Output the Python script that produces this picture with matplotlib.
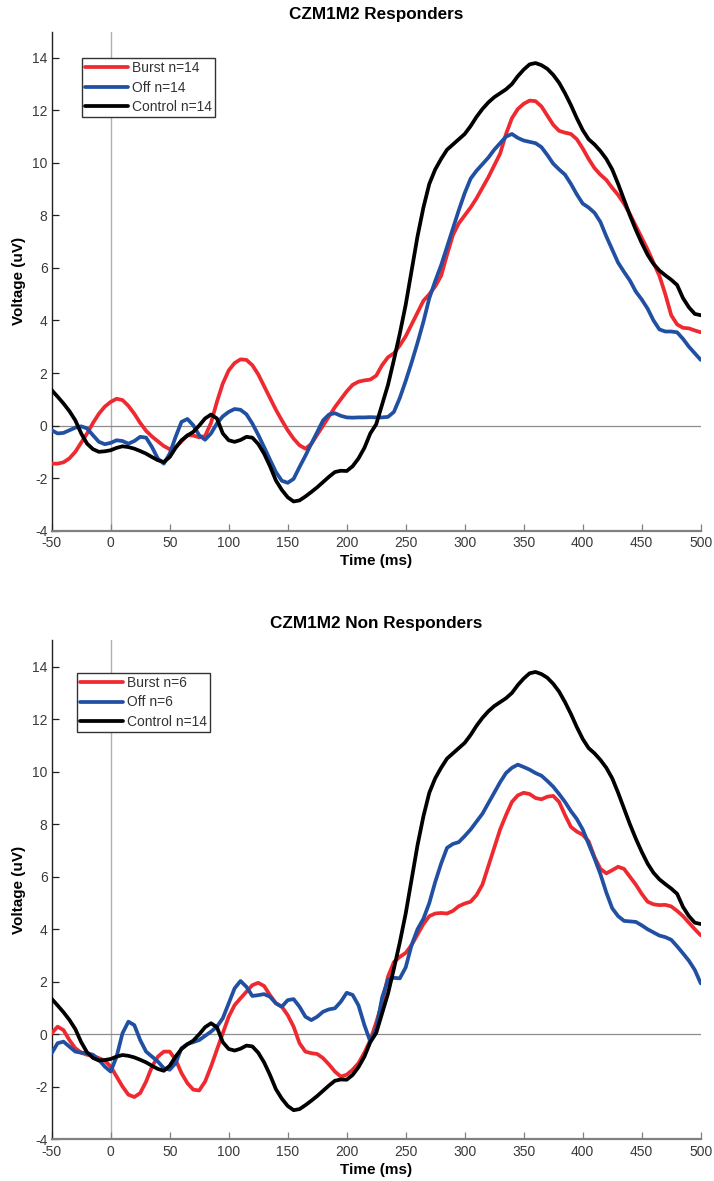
import matplotlib.pyplot as plt
import numpy as np

plt.rcParams['font.family'] = ['Liberation Sans', 'DejaVu Sans']
plt.rcParams['axes.unicode_minus'] = False

# time axis (ms), 5 ms steps
time_ms = np.arange(-50, 501, 5)

control_n14 = [
    1.35, 1.1, 0.84, 0.55, 0.2, -0.3, -0.69, -0.9, -1.0, -0.98,
    -0.94, -0.85, -0.79, -0.82, -0.88, -0.97, -1.07, -1.2, -1.32, -1.39,
    -1.2, -0.85, -0.56, -0.38, -0.24, 0.0, 0.27, 0.42, 0.27, -0.3,
    -0.56, -0.62, -0.55, -0.43, -0.46, -0.7, -1.07, -1.55, -2.09, -2.45,
    -2.73, -2.89, -2.85, -2.7, -2.53, -2.35, -2.15, -1.95, -1.77, -1.72,
    -1.73, -1.55, -1.25, -0.85, -0.3, 0.05, 0.8, 1.55, 2.5, 3.5,
    4.6, 5.9, 7.2, 8.3, 9.2, 9.75, 10.15, 10.5, 10.7, 10.9,
    11.1, 11.4, 11.75, 12.05, 12.3, 12.5, 12.65, 12.8, 13.0, 13.3,
    13.55, 13.75, 13.8, 13.72, 13.58, 13.35, 13.05, 12.65, 12.2, 11.7,
    11.25, 10.9, 10.7, 10.45, 10.15, 9.75, 9.2, 8.6, 8.0, 7.45,
    6.95, 6.5, 6.15, 5.9, 5.72, 5.55, 5.35, 4.85, 4.5, 4.25,
    4.2,
]

burst_n14 = [
    -1.45, -1.45, -1.4, -1.25, -1.0, -0.65, -0.3, 0.1, 0.45, 0.72,
    0.9, 1.02, 0.97, 0.75, 0.45, 0.1, -0.2, -0.42, -0.6, -0.78,
    -0.9, -0.82, -0.6, -0.37, -0.38, -0.45, -0.4, 0.1, 0.9, 1.6,
    2.1, 2.38, 2.52, 2.5, 2.3, 1.95, 1.5, 1.05, 0.6, 0.2,
    -0.18, -0.5, -0.75, -0.88, -0.7, -0.35, 0.0, 0.35, 0.7, 1.0,
    1.3, 1.55, 1.67, 1.72, 1.75, 1.9, 2.3, 2.6, 2.75, 3.05,
    3.4, 3.85, 4.3, 4.75, 5.0, 5.3, 5.7, 6.5, 7.25, 7.7,
    8.0, 8.3, 8.65, 9.05, 9.45, 9.9, 10.35, 11.1, 11.7, 12.05,
    12.25, 12.37, 12.35, 12.15, 11.8, 11.45, 11.22, 11.15, 11.1, 10.9,
    10.55, 10.15, 9.8, 9.55, 9.35, 9.05, 8.78, 8.45, 8.05, 7.6,
    7.15, 6.7, 6.2, 5.7, 5.0, 4.2, 3.85, 3.72, 3.7, 3.62,
    3.55,
]

off_n14 = [
    -0.18, -0.3, -0.28, -0.18, -0.08, -0.03, -0.11, -0.37, -0.62, -0.71,
    -0.66, -0.56, -0.59, -0.69, -0.59, -0.43, -0.46, -0.82, -1.26, -1.45,
    -1.07, -0.43, 0.14, 0.25, 0.01, -0.37, -0.54, -0.3, 0.08, 0.35,
    0.52, 0.63, 0.6, 0.43, 0.08, -0.35, -0.82, -1.3, -1.77, -2.1,
    -2.18, -2.03, -1.58, -1.15, -0.69, -0.25, 0.2, 0.42, 0.47, 0.37,
    0.31, 0.3, 0.31, 0.31, 0.32, 0.31, 0.31, 0.33, 0.52, 1.05,
    1.7, 2.4, 3.15, 3.95, 4.85, 5.5, 6.1, 6.8, 7.5, 8.2,
    8.85, 9.4, 9.7, 9.95, 10.2, 10.5, 10.75, 11.0, 11.1, 10.95,
    10.85, 10.8, 10.75, 10.6, 10.3, 9.97, 9.75, 9.55, 9.2, 8.8,
    8.45, 8.3, 8.1, 7.75, 7.2, 6.7, 6.2, 5.85, 5.52, 5.1,
    4.8, 4.45, 4.0, 3.66, 3.58, 3.58, 3.55, 3.3, 3.0, 2.75,
    2.5,
]

burst_n6 = [
    0.04, 0.29, 0.16, -0.22, -0.53, -0.7, -0.78, -0.82, -0.91, -1.0,
    -1.23, -1.61, -1.99, -2.3, -2.39, -2.24, -1.8, -1.23, -0.85, -0.66,
    -0.66, -0.97, -1.48, -1.86, -2.11, -2.14, -1.8, -1.23, -0.59, 0.04,
    0.67, 1.11, 1.37, 1.62, 1.87, 1.96, 1.84, 1.49, 1.18, 1.05,
    0.73, 0.29, -0.34, -0.66, -0.72, -0.75, -0.91, -1.15, -1.42, -1.61,
    -1.54, -1.35, -1.1, -0.7, -0.22, 0.45, 1.2, 2.2, 2.75, 2.95,
    3.1, 3.4, 3.8, 4.2, 4.5, 4.6, 4.62, 4.6, 4.7, 4.88,
    4.98, 5.05, 5.3, 5.7, 6.4, 7.1, 7.8, 8.35, 8.85, 9.1,
    9.2, 9.15, 9.0, 8.95, 9.05, 9.08, 8.85, 8.35, 7.9, 7.72,
    7.6, 7.35, 6.75, 6.3, 6.13, 6.25, 6.38, 6.3, 6.0, 5.7,
    5.35, 5.05, 4.95, 4.92, 4.93, 4.87, 4.7, 4.5, 4.25, 4.0,
    3.77,
]

off_n6 = [
    -0.72, -0.34, -0.28, -0.47, -0.66, -0.7, -0.72, -0.78, -0.97, -1.23,
    -1.42, -0.85, 0.04, 0.48, 0.35, -0.22, -0.66, -0.85, -1.04, -1.29,
    -1.35, -1.1, -0.53, -0.37, -0.3, -0.22, -0.06, 0.1, 0.29, 0.61,
    1.18, 1.75, 2.03, 1.81, 1.46, 1.49, 1.53, 1.43, 1.18, 1.05,
    1.3, 1.34, 1.05, 0.67, 0.54, 0.67, 0.86, 0.95, 0.99, 1.24,
    1.58, 1.5, 1.1, 0.35, -0.28, 0.2, 1.4, 2.08, 2.15, 2.13,
    2.55, 3.4, 4.0, 4.4, 5.0, 5.8, 6.5, 7.1, 7.25, 7.32,
    7.55, 7.8, 8.1, 8.4, 8.8, 9.2, 9.6, 9.95, 10.15, 10.27,
    10.18, 10.08, 9.95, 9.85, 9.65, 9.43, 9.15, 8.85, 8.5, 8.2,
    7.8, 7.25, 6.7, 6.1, 5.4, 4.8, 4.5, 4.32, 4.3, 4.28,
    4.15, 4.0, 3.88, 3.76, 3.7, 3.6, 3.35, 3.08, 2.8, 2.45,
    1.94,
]

x_ticks = np.arange(-50, 501, 50)
y_ticks = np.arange(-4, 15, 2)

RED = '#ee2a30'
BLUE = '#2150a3'
BLACK = '#000000'

fig = plt.figure(figsize=(7.14, 11.81), dpi=100)
ax_top = fig.add_axes([0.0724, 0.5507, 0.9090, 0.4226])
ax_bot = fig.add_axes([0.0724, 0.0353, 0.9090, 0.4224])

panels = [
    (ax_top, 'CZM1M2 Responders',
     [(burst_n14, RED, 'Burst n=14'), (off_n14, BLUE, 'Off n=14'),
      (control_n14, BLACK, 'Control n=14')],
     (0.047, 0.947)),
    (ax_bot, 'CZM1M2 Non Responders',
     [(burst_n6, RED, 'Burst n=6'), (off_n6, BLUE, 'Off n=6'),
      (control_n14, BLACK, 'Control n=14')],
     (0.039, 0.935)),
]

for ax, title, series, leg_anchor in panels:
    # reference lines at t=0 and 0 uV
    ax.axvline(0, color='#b0b0b0', lw=1.0, zorder=1)
    ax.axhline(0, color='#8c8c8c', lw=0.9, zorder=1)

    for vals, col, lab in series:
        ax.plot(time_ms, vals, color=col, lw=2.7, label=lab, zorder=3,
                solid_capstyle='round', solid_joinstyle='round')

    ax.set_xlim(-50, 500)
    ax.set_ylim(-4, 15)
    ax.set_xticks(x_ticks)
    ax.set_yticks(y_ticks)
    ax.tick_params(direction='in', length=5, width=0.9, labelsize=10,
                   pad=3)
    ax.tick_params(axis='x', colors='#808080', labelcolor='#3a3a3a', pad=4)
    ax.tick_params(axis='y', colors='#202020', labelcolor='#3a3a3a')

    ax.spines['top'].set_visible(False)
    ax.spines['right'].set_visible(False)
    ax.spines['left'].set_color('#202020')
    ax.spines['left'].set_linewidth(1.0)
    ax.spines['bottom'].set_color('#808080')
    ax.spines['bottom'].set_linewidth(1.6)

    ax.set_title(title, fontsize=12.3, fontweight='bold', pad=9)
    ax.set_xlabel('Time (ms)', fontsize=11, fontweight='bold', labelpad=3)
    ax.set_ylabel('Voltage (uV)', fontsize=11, fontweight='bold', labelpad=4)

    leg = ax.legend(loc='upper left', bbox_to_anchor=leg_anchor,
                    fontsize=10, handlelength=3.1, handletextpad=0.25,
                    borderpad=0.23, labelspacing=0.39, fancybox=False,
                    framealpha=1, borderaxespad=0)
    leg.get_frame().set_edgecolor('#333333')
    leg.get_frame().set_linewidth(1.0)
    for txt in leg.get_texts():
        txt.set_color('#333333')

fig.savefig('out.png', dpi=100)
